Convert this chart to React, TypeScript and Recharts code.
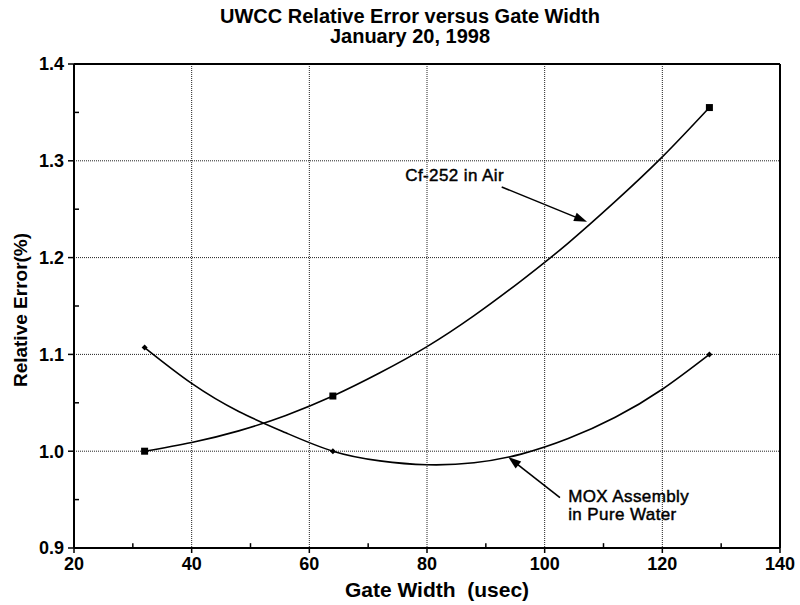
import React from "react";
import {
  ComposedChart,
  Line,
  Scatter,
  XAxis,
  YAxis,
  CartesianGrid,
  ReferenceLine,
  ReferenceDot,
} from "recharts";

// ---- data ----
const gateWidths = [32, 64, 128];
const cfMeasured = [1.0, 1.057, 1.355];
const moxMeasured = [1.107, 1.0, 1.1];

// points
const curveGateWidths = [32, 40, 48, 56, 64, 72, 80, 88, 96, 104, 112, 120, 128];
const cfCurveValues = [1.0, 1.009, 1.021, 1.037, 1.057, 1.081, 1.108, 1.14, 1.176, 1.215, 1.258, 1.304, 1.355];
const moxCurveValues = [1.107, 1.07, 1.041, 1.019, 1.0, 0.99, 0.986, 0.988, 0.997, 1.013, 1.035, 1.064, 1.1];

const xTicks = [20, 40, 60, 80, 100, 120, 140];
const yTicks = [0.9, 1.0, 1.1, 1.2, 1.3, 1.4];
const xMinorTicks = [30, 50, 70, 90, 110, 130];
const yMinorTicks = [0.95, 1.05, 1.15, 1.25, 1.35];

const titleLines = ["UWCC Relative Error versus Gate Width", "January 20, 1998"];
const xLabel = "Gate Width  (usec)";
const yLabel = "Relative Error(%)";
const cfLabel = "Cf-252 in Air";
const moxLabel1 = "MOX Assembly";
const moxLabel2 = "in Pure Water";

// annotation anchors (data coordinates)
const cfArrow = [{ x: 92.7, y: 1.273 }, { x: 107.2, y: 1.237 }];
const cfTextAt = { x: 76.3, y: 1.279 };
const moxArrow = [{ x: 102.6, y: 0.952 }, { x: 93.8, y: 0.994 }];
const moxTextAt1 = { x: 104.0, y: 0.9475 };
const moxTextAt2 = { x: 104.0, y: 0.929 };

const cfPoints = gateWidths.map((x, i) => ({ x, y: cfMeasured[i] }));
const moxPoints = gateWidths.map((x, i) => ({ x, y: moxMeasured[i] }));
const cfCurve = curveGateWidths.map((x, i) => ({ x, y: cfCurveValues[i] }));
const moxCurve = curveGateWidths.map((x, i) => ({ x, y: moxCurveValues[i] }));

const FONT = "'Liberation Sans', Arial, Helvetica, sans-serif";

const SquareMarker = (props: any) => {
  const { cx, cy } = props;
  if (cx == null || cy == null) return <g />;
  return <rect x={cx - 3.5} y={cy - 3.5} width={7} height={7} fill="#000" />;
};

const DiamondMarker = (props: any) => {
  const { cx, cy } = props;
  if (cx == null || cy == null) return <g />;
  return (
    <polygon
      points={`${cx},${cy - 3} ${cx + 3},${cy} ${cx},${cy + 3} ${cx - 3},${cy}`}
      fill="#000"
    />
  );
};

const ArrowShape = (props: any) => {
  const { x1, y1, x2, y2 } = props;
  if ([x1, y1, x2, y2].some((v) => v == null || isNaN(v))) return <g />;
  const dx = x2 - x1;
  const dy = y2 - y1;
  const len = Math.sqrt(dx * dx + dy * dy) || 1;
  const ux = dx / len;
  const uy = dy / len;
  const headLen = 13;
  const headW = 4.5;
  const bx = x2 - ux * headLen;
  const by = y2 - uy * headLen;
  const p1 = `${bx - uy * headW},${by + ux * headW}`;
  const p2 = `${bx + uy * headW},${by - ux * headW}`;
  return (
    <g>
      <line x1={x1} y1={y1} x2={bx + ux * 2} y2={by + uy * 2} stroke="#000" strokeWidth={1.6} />
      <polygon points={`${x2},${y2} ${p1} ${p2}`} fill="#000" />
    </g>
  );
};

const makeTextShape = (label: string) => (props: any) => {
  const { cx, cy } = props;
  if (cx == null || cy == null) return <g />;
  return (
    <text
      x={cx}
      y={cy}
      fontFamily={FONT}
      fontSize={17}
      letterSpacing={0.4}
      fill="#000"
      stroke="#000"
      strokeWidth={0.45}
    >
      {label}
    </text>
  );
};

const CfText = makeTextShape(cfLabel);
const MoxText1 = makeTextShape(moxLabel1);
const MoxText2 = makeTextShape(moxLabel2);

export default function App() {
  return (
    <div style={{ position: "absolute", left: 0, top: 0, width: 800, height: 605, background: "#fff" }}>
      <div
        style={{
          position: "absolute",
          left: 0,
          top: 6,
          width: 820,
          textAlign: "center",
          fontFamily: FONT,
          fontWeight: "bold",
          fontSize: 20,
          lineHeight: "20px",
          color: "#000",
        }}
      >
        {titleLines.map((t, i) => (
          <div key={i}>{t}</div>
        ))}
      </div>
      <ComposedChart
        width={800}
        height={605}
        margin={{ top: 64, right: 20, left: 0, bottom: 0 }}
      >
        <CartesianGrid stroke="#222" strokeDasharray="1 1" strokeWidth={1} />
        <XAxis
          type="number"
          dataKey="x"
          domain={[20, 140]}
          ticks={xTicks}
          allowDataOverflow
          height={57}
          axisLine={{ stroke: "#000", strokeWidth: 2 }}
          tickLine={{ stroke: "#000", strokeWidth: 1.5 }}
          tickSize={5}
          tick={{ fill: "#000", fontFamily: FONT, fontSize: 18, fontWeight: "bold" }}
          tickMargin={4}
        />
        <YAxis
          type="number"
          dataKey="y"
          domain={[0.9, 1.4]}
          ticks={yTicks}
          allowDataOverflow
          width={74}
          axisLine={{ stroke: "#000", strokeWidth: 2 }}
          tickLine={{ stroke: "#000", strokeWidth: 1.5 }}
          tickSize={6}
          tick={{ fill: "#000", fontFamily: FONT, fontSize: 18, fontWeight: "bold" }}
          tickMargin={4}
          tickFormatter={(v: number) => v.toFixed(1)}
        />
        <ReferenceLine y={1.4} stroke="#000" strokeWidth={2} ifOverflow="visible" />
        <ReferenceLine x={140} stroke="#000" strokeWidth={2} ifOverflow="visible" />
        {xMinorTicks.map((t) => (
          <ReferenceLine
            key={"xm" + t}
            segment={[{ x: t, y: 0.9 }, { x: t, y: 0.905 }]}
            stroke="#000"
            strokeWidth={1.5}
            ifOverflow="visible"
          />
        ))}
        {yMinorTicks.map((t) => (
          <ReferenceLine
            key={"ym" + t}
            segment={[{ x: 20, y: t }, { x: 20.85, y: t }]}
            stroke="#000"
            strokeWidth={1.5}
            ifOverflow="visible"
          />
        ))}
        <Line
          data={cfCurve}
          dataKey="y"
          type="natural"
          stroke="#000"
          strokeWidth={1.6}
          dot={false}
          activeDot={false}
          isAnimationActive={false}
        />
        <Line
          data={moxCurve}
          dataKey="y"
          type="natural"
          stroke="#000"
          strokeWidth={1.6}
          dot={false}
          activeDot={false}
          isAnimationActive={false}
        />
        <Scatter data={cfPoints} dataKey="y" shape={SquareMarker} isAnimationActive={false} />
        <Scatter data={moxPoints} dataKey="y" shape={DiamondMarker} isAnimationActive={false} />
        <ReferenceLine segment={cfArrow} shape={ArrowShape} ifOverflow="visible" />
        <ReferenceLine segment={moxArrow} shape={ArrowShape} ifOverflow="visible" />
        <ReferenceDot x={cfTextAt.x} y={cfTextAt.y} r={1} shape={CfText} ifOverflow="visible" />
        <ReferenceDot x={moxTextAt1.x} y={moxTextAt1.y} r={1} shape={MoxText1} ifOverflow="visible" />
        <ReferenceDot x={moxTextAt2.x} y={moxTextAt2.y} r={1} shape={MoxText2} ifOverflow="visible" />
      </ComposedChart>
      <div
        style={{
          position: "absolute",
          left: 287,
          top: 578,
          width: 300,
          textAlign: "center",
          whiteSpace: "pre",
          fontFamily: FONT,
          fontWeight: "bold",
          fontSize: 21,
          lineHeight: "24px",
          color: "#000",
        }}
      >
        {xLabel}
      </div>
      <div
        style={{
          position: "absolute",
          left: 21 - 100,
          top: 310 - 12,
          width: 200,
          height: 24,
          textAlign: "center",
          whiteSpace: "pre",
          fontFamily: FONT,
          fontWeight: "bold",
          fontSize: 19,
          lineHeight: "24px",
          color: "#000",
          transform: "rotate(-90deg)",
        }}
      >
        {yLabel}
      </div>
    </div>
  );
}
